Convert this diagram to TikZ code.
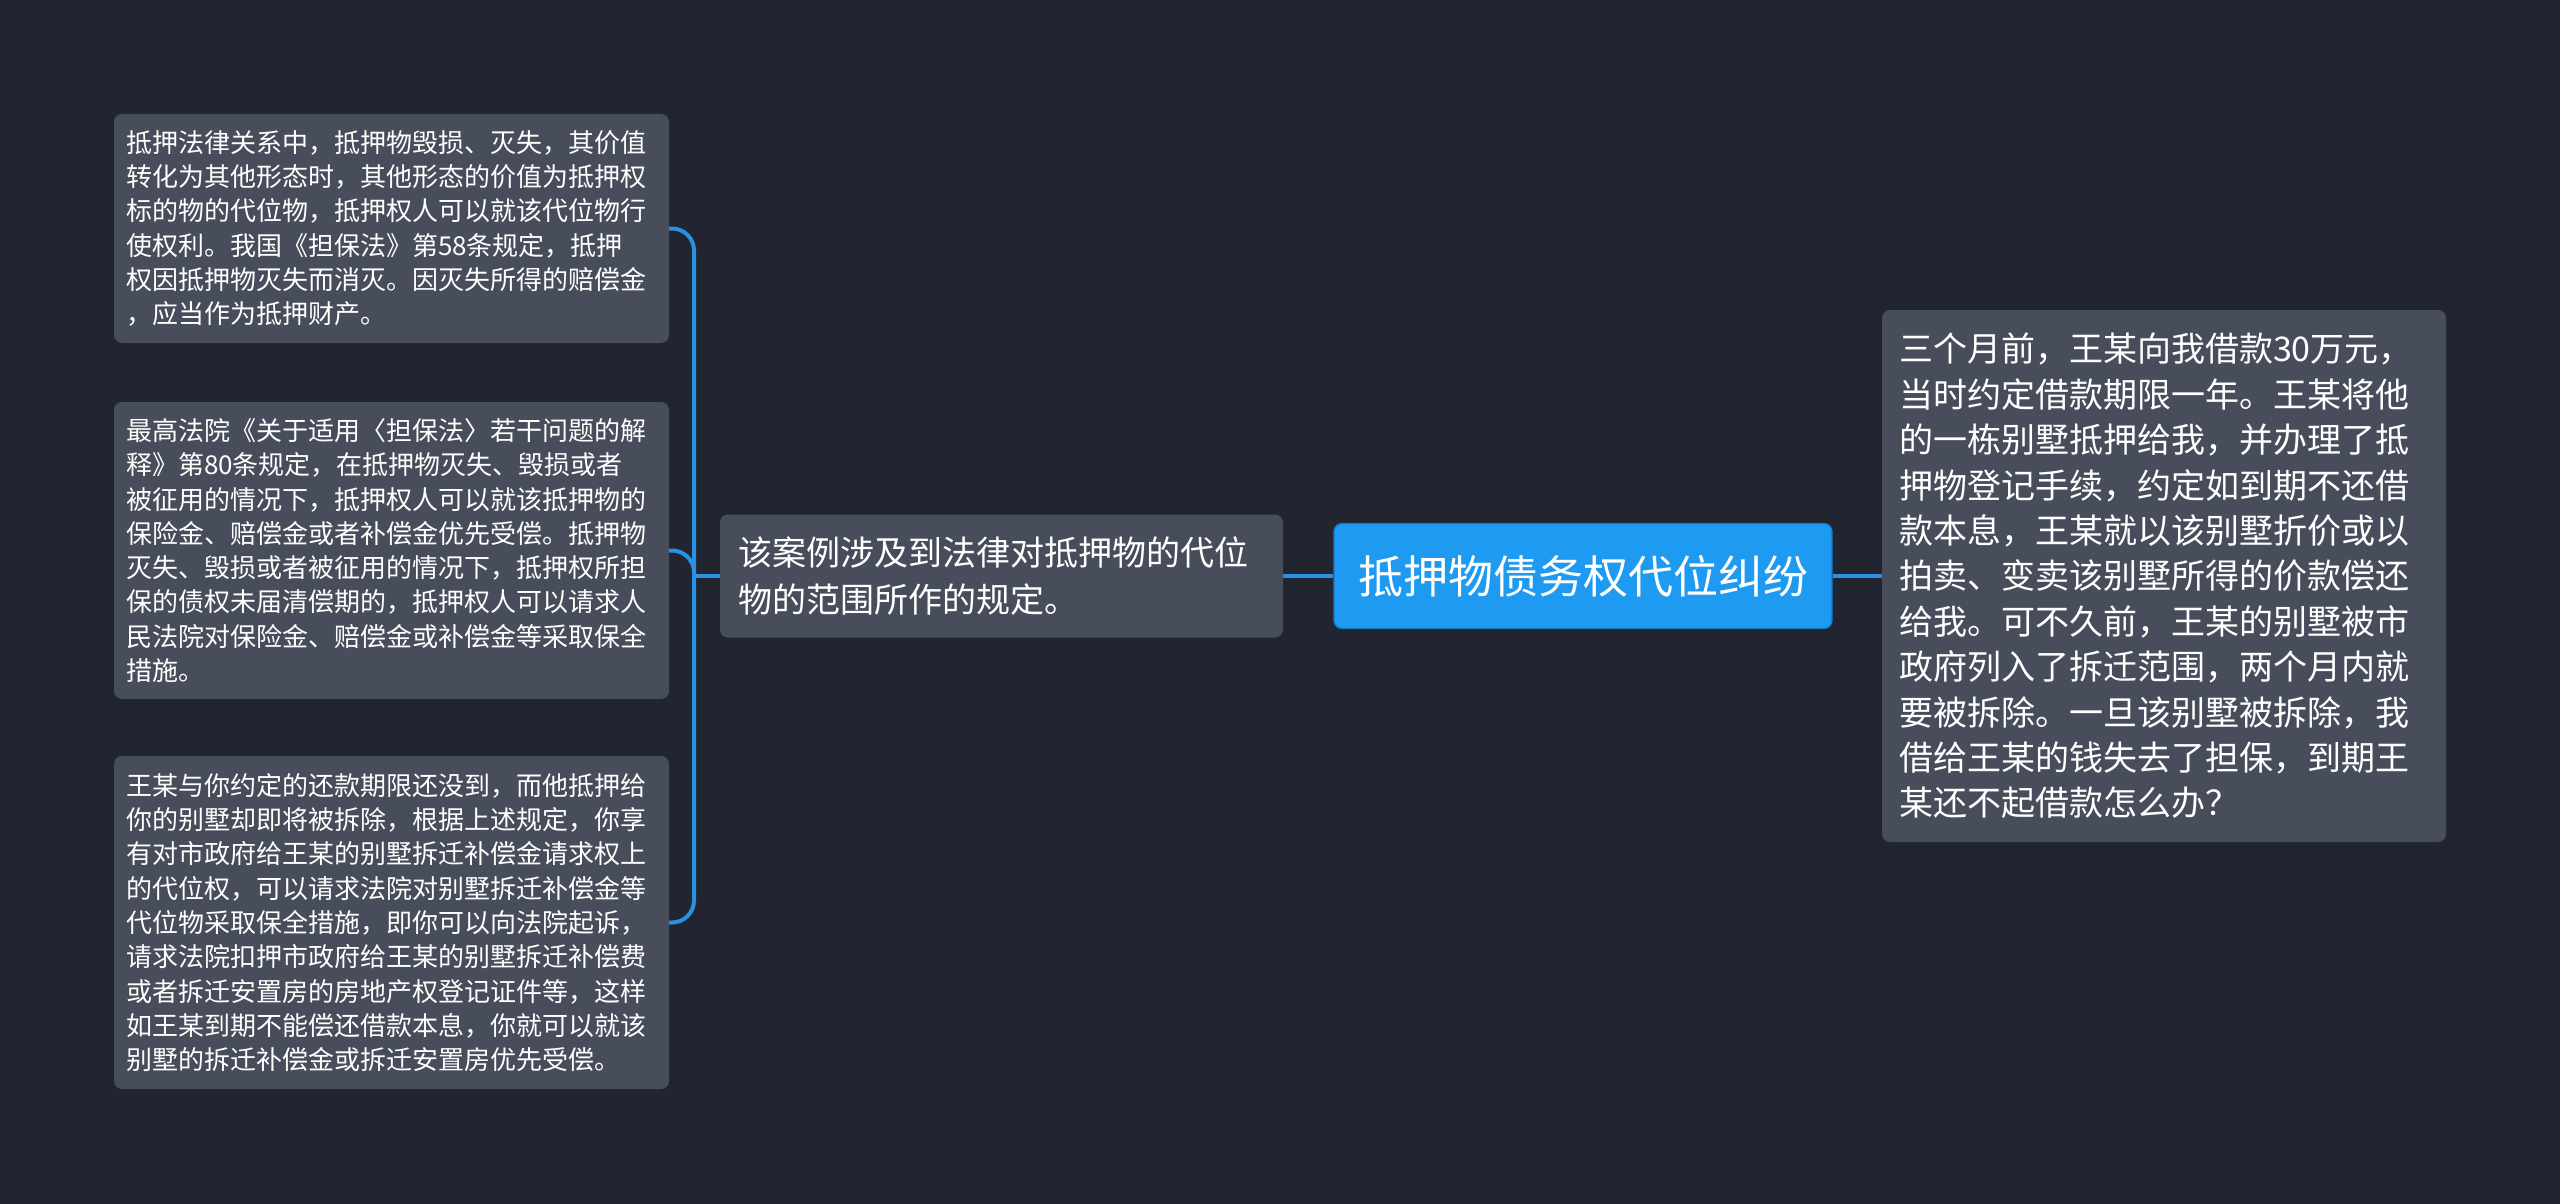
\documentclass[tikz,border=0pt]{standalone}
\usepackage{fontspec}
\usepackage{xcolor}
\newfontfamily\cjk{Noto Sans CJK SC}
\definecolor{canvas}{RGB}{33,37,48}
\definecolor{cardgray}{RGB}{72,77,91}
\definecolor{rootblue}{RGB}{30,154,240}
\definecolor{rootedge}{RGB}{22,120,200}
\definecolor{linkblue}{RGB}{40,145,228}

\begin{document}
\begin{tikzpicture}[x=1pt, y=-1pt,
  card/.style={fill=cardgray, rounded corners=8pt, text=white, align=left, anchor=center},
  leafcard/.style={card, font=\cjk\fontsize{26}{34.3}\selectfont, text width=531pt, inner xsep=12pt, inner ysep=0pt},
  bigcard/.style={card, font=\cjk\fontsize{34}{46}\selectfont, inner ysep=0pt},
  rootcard/.style={fill=rootblue, draw=rootedge, line width=1.2pt, rounded corners=8pt, text=white,
    font=\cjk\fontsize{45}{54}\selectfont, minimum width=498pt, minimum height=105pt},
  link/.style={linkblue, line width=4pt}]
  % Background
  \fill[canvas] (0,0) rectangle (2560,1204);
  \useasboundingbox (0,0) rectangle (2560,1204);

  % Root topic
  \node[rootcard] (root) at (1583,576) {抵押物债务权代位纠纷};

  % Question on the right
  \node[bigcard, text width=530pt, inner xsep=17pt, minimum height=532pt,
    font=\cjk\fontsize{34}{45.4}\selectfont] (ask) at (2164,576) {三个月前，王某向我借款30万元，\\
当时约定借款期限一年。王某将他\\
的一栋别墅抵押给我，并办理了抵\\
押物登记手续，约定如到期不还借\\
款本息，王某就以该别墅折价或以\\
拍卖、变卖该别墅所得的价款偿还\\
给我。可不久前，王某的别墅被市\\
政府列入了拆迁范围，两个月内就\\
要被拆除。一旦该别墅被拆除，我\\
借给王某的钱失去了担保，到期王\\
某还不起借款怎么办？};

  % Answer summary
  \node[bigcard, text width=527pt, inner xsep=18pt, minimum height=123pt,
    font=\cjk\fontsize{34}{47}\selectfont] (sum) at (1001.5,576) {该案例涉及到法律对抵押物的代位\\
物的范围所作的规定。};

  % Three detail cards
  \node[leafcard, minimum height=229pt] (law) at (391.5,228.5) {抵押法律关系中，抵押物毁损、灭失，其价值\\
转化为其他形态时，其他形态的价值为抵押权\\
标的物的代位物，抵押权人可以就该代位物行\\
使权利。我国《担保法》第58条规定，抵押\\
权因抵押物灭失而消灭。因灭失所得的赔偿金\\
，应当作为抵押财产。};
  \node[leafcard, minimum height=297pt] (rule) at (391.5,550.5) {最高法院《关于适用〈担保法〉若干问题的解\\
释》第80条规定，在抵押物灭失、毁损或者\\
被征用的情况下，抵押权人可以就该抵押物的\\
保险金、赔偿金或者补偿金优先受偿。抵押物\\
灭失、毁损或者被征用的情况下，抵押权所担\\
保的债权未届清偿期的，抵押权人可以请求人\\
民法院对保险金、赔偿金或补偿金等采取保全\\
措施。};
  \node[leafcard, minimum height=333pt] (advice) at (391.5,922.5) {王某与你约定的还款期限还没到，而他抵押给\\
你的别墅却即将被拆除，根据上述规定，你享\\
有对市政府给王某的别墅拆迁补偿金请求权上\\
的代位权，可以请求法院对别墅拆迁补偿金等\\
代位物采取保全措施，即你可以向法院起诉，\\
请求法院扣押市政府给王某的别墅拆迁补偿费\\
或者拆迁安置房的房地产权登记证件等，这样\\
如王某到期不能偿还借款本息，你就可以就该\\
别墅的拆迁补偿金或拆迁安置房优先受偿。};

  % Connectors
  \coordinate (fork) at (694,576);
  \draw[link] (root.west) -- (sum.east);
  \draw[link] (root.east) -- (ask.west);
  \draw[link] (sum.west) -- (fork);
  \foreach \leaf in {law, rule, advice}
    \draw[link, rounded corners=22pt] (fork) |- (\leaf.east);

\end{tikzpicture}
\end{document}
